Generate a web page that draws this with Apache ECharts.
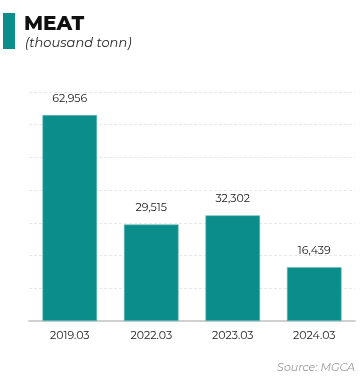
<!DOCTYPE html>
<html>
<head>
<meta charset="utf-8">
<script src="https://cdn.jsdelivr.net/npm/echarts@6/dist/echarts.min.js"></script>
<style>
  html, body { margin: 0; padding: 0; background: #fff; }
  #chart { width: 361px; height: 381px; }
</style>
</head>
<body>
<div id="chart"></div>
<script>
// Meat stock, thousand tonnes, by period
const categories = ['2019.03', '2022.03', '2023.03', '2024.03'];
const meatValues = [62956, 29515, 32302, 16439];

const teal = '#0b8e8b';
const fontFamily = 'Montserrat, "Open Sans", "Noto Sans", sans-serif';

const chart = echarts.init(document.getElementById('chart'), null, { renderer: 'canvas' });

chart.setOption({
  backgroundColor: '#ffffff',
  animation: false,
  textStyle: { fontFamily: fontFamily },
  grid: { left: 29, right: 6, top: 92, bottom: 60, containLabel: false },
  graphic: [
    { type: 'rect', shape: { x: 3, y: 13, width: 12, height: 36 }, style: { fill: teal } },
    { type: 'text', left: 24, top: 14, style: { text: 'MEAT', font: '800 20px ' + fontFamily, fill: '#111' } },
    { type: 'text', left: 25, top: 37, style: { text: '(thousand tonn)', font: 'italic 13px ' + fontFamily, fill: '#222' } },
    { type: 'text', right: 6, top: 362, style: { text: 'Source: MGCA', font: 'italic 11px ' + fontFamily, fill: '#999' } }
  ],
  xAxis: {
    type: 'category',
    data: categories,
    axisTick: { show: false },
    axisLine: { show: true, lineStyle: { color: '#d0d0d0', width: 2 } },
    axisLabel: { color: '#222', fontSize: 11, margin: 9, fontFamily: fontFamily }
  },
  yAxis: {
    type: 'value',
    min: 0,
    max: 70000,
    interval: 10000,
    axisLabel: { show: false },
    axisLine: { show: false },
    axisTick: { show: false },
    splitLine: { show: true, lineStyle: { color: '#e8e8e8', type: [3, 2], width: 1 } }
  },
  series: [{
    type: 'bar',
    data: meatValues,
    barWidth: '67%',
    itemStyle: { color: teal, borderColor: '#6cbcb9', borderWidth: 0.6 },
    label: {
      show: true,
      position: 'top',
      distance: 11,
      color: '#222',
      fontSize: 11,
      fontFamily: fontFamily,
      formatter: p => p.value.toLocaleString('en-US')
    }
  }]
});
</script>
</body>
</html>
